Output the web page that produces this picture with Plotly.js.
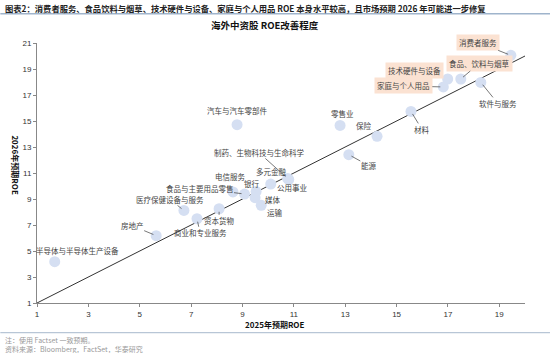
<!DOCTYPE html>
<html>
<head>
<meta charset="utf-8">
<script src="https://cdn.plot.ly/plotly-3.0.1.min.js"></script>
<style>
html,body{margin:0;padding:0;background:#fff;}
#chart{width:550px;height:353px;}
</style>
</head>
<body>
<div id="chart"></div>
<script>
// ---- data ----
const sectors = ["消费者服务","食品、饮料与烟草","技术硬件与设备","家庭与个人用品","软件与服务",
  "零售业","材料","保险","能源","汽车与汽车零部件","制药、生物科技与生命科学","多元金融","公用事业",
  "银行","电信服务","食品与主要用品零售","媒体","运输","医疗保健设备与服务","商业和专业服务","资本货物",
  "房地产","半导体与半导体生产设备"];
const roe2025 = [19.45,17.50,16.99,16.82,18.28,12.80,15.56,14.24,13.14,8.79,10.76,10.10,10.80,
  9.53,8.63,9.08,9.49,9.73,6.72,7.23,8.09,5.64,1.69];
const roe2026 = [20.05,18.23,18.23,17.62,17.97,14.66,15.74,13.82,12.41,14.72,10.58,10.15,10.50,
  9.58,9.54,9.38,9.10,8.51,8.12,7.48,8.25,6.18,4.18];
const highlighted = ["消费者服务","食品、饮料与烟草","技术硬件与设备","家庭与个人用品"];
const xTicks = [1,3,5,7,9,11,13,15,17,19];
const yTicks = [1,3,5,7,9,11,13,15,17,19,21];
const lineRange = [1,20];

// ---- label placement (pixel offsets from point: dx, dy, arrow) ----
const labelPos = {
  "消费者服务":[-33,-13,true],
  "食品、饮料与烟草":[19,-16,true],
  "技术硬件与设备":[-33,-9,false],
  "家庭与个人用品":[-40,-1,true],
  "软件与服务":[17,21,true],
  "零售业":[2,-12,false],
  "材料":[11,18,true],
  "保险":[-13,-11,false],
  "能源":[20,11,true],
  "汽车与汽车零部件":[0,-14,false],
  "制药、生物科技与生命科学":[-29,-26,true],
  "多元金融":[1,-13,false],
  "公用事业":[4,8,false],
  "银行":[-4,-8,false],
  "电信服务":[-2,-15,false],
  "食品与主要用品零售":[-45,-6,true],
  "媒体":[18,2,false],
  "运输":[14,7,false],
  "医疗保健设备与服务":[-14,-11,true],
  "商业和专业服务":[3,14,true],
  "资本货物":[0,12,true],
  "房地产":[-24,-10,true],
  "半导体与半导体生产设备":[23,-11,false]
};

const cjk = '"Noto Sans CJK SC", "Noto Sans", sans-serif';
const annotations = [];
sectors.forEach((s,i)=>{
  const p = labelPos[s];
  const hl = highlighted.includes(s);
  const a = {
    x: roe2025[i], y: roe2026[i], xref:'x', yref:'y',
    text: s,
    font:{family:cjk,size:7.5,color:'#444'},
    bgcolor: hl ? '#fbe2d2' : 'rgba(0,0,0,0)',
    borderpad: hl ? 2 : 0
  };
  if (p[2]) {
    a.showarrow = true; a.arrowhead = 0; a.arrowwidth = 0.8; a.arrowcolor = '#555';
    a.ax = p[0]; a.ay = p[1]; a.standoff = 3;
  } else {
    a.showarrow = false; a.xshift = p[0]; a.yshift = -p[1];
  }
  annotations.push(a);
});

// header / footer / titles in paper coords
const L = 36.7, R = 525, T = 43.3, B = 303.3;
const px = v => (v - L)/(R - L);
const py = v => (B - v)/(B - T);
annotations.push(
  {xref:'paper',yref:'paper',x:px(3),y:py(8),xanchor:'left',yanchor:'middle',showarrow:false,
   text:'<b>图表2：消费者服务、食品饮料与烟草、技术硬件与设备、家庭与个人用品 ROE 本身水平较高，且市场预期 2026 年可能进一步修复</b>',
   font:{family:cjk,size:8.3,color:'#222'}},
  {xref:'paper',yref:'paper',x:px(265),y:py(25),xanchor:'center',yanchor:'middle',showarrow:false,
   text:'<b>海外中资股 ROE改善程度</b>',font:{family:cjk,size:9.5,color:'#111'}},
  {xref:'paper',yref:'paper',x:px(274),y:py(325),xanchor:'center',yanchor:'middle',showarrow:false,
   text:'<b>2025年预期ROE</b>',font:{family:cjk,size:8,color:'#111'}},
  {xref:'paper',yref:'paper',x:px(15),y:py(165),xanchor:'center',yanchor:'middle',showarrow:false,textangle:90,
   text:'<b>2026年预期ROE</b>',font:{family:cjk,size:8,color:'#111'}},
  {xref:'paper',yref:'paper',x:px(3),y:py(340),xanchor:'left',yanchor:'middle',showarrow:false,
   text:'注：使用 Factset 一致预期。',font:{family:cjk,size:7,color:'#999'}},
  {xref:'paper',yref:'paper',x:px(3),y:py(349),xanchor:'left',yanchor:'middle',showarrow:false,
   text:'资料来源：Bloomberg，FactSet，华泰研究',font:{family:cjk,size:7,color:'#999'}}
);

const shapes = [
  {type:'line',xref:'paper',yref:'paper',x0:px(0),x1:px(550),y0:py(14),y1:py(14),line:{color:'#9fb4cc',width:1.5}},
  {type:'line',xref:'paper',yref:'paper',x0:px(0),x1:px(550),y0:py(333),y1:py(333),line:{color:'#b8c6d6',width:1.2}}
];

const traces = [
  {type:'scatter',mode:'lines',x:lineRange,y:lineRange,line:{color:'#333',width:1},hoverinfo:'skip',cliponaxis:false},
  {type:'scatter',mode:'markers',x:roe2025,y:roe2026,text:sectors,
   marker:{size:11,color:'#d5dff2',line:{width:0}},cliponaxis:false}
];

const axisCommon = {
  showgrid:false, zeroline:false, showline:true, linecolor:'#888', linewidth:1,
  ticks:'outside', ticklen:3, tickcolor:'#888',
  tickfont:{family:'Liberation Sans, Arial, sans-serif',size:8,color:'#333'}
};

const layout = {
  width:550, height:353,
  margin:{l:L, r:550-R, t:T, b:353-B, pad:0},
  paper_bgcolor:'#fff', plot_bgcolor:'#fff',
  showlegend:false,
  xaxis:Object.assign({}, axisCommon, {range:[1,20], tickvals:xTicks, ticktext:xTicks.map(String)}),
  yaxis:Object.assign({}, axisCommon, {range:[1,21], tickvals:yTicks, ticktext:yTicks.map(String)}),
  annotations:annotations, shapes:shapes
};

Plotly.newPlot('chart', traces, layout, {staticPlot:true, displayModeBar:false});
</script>
</body>
</html>
